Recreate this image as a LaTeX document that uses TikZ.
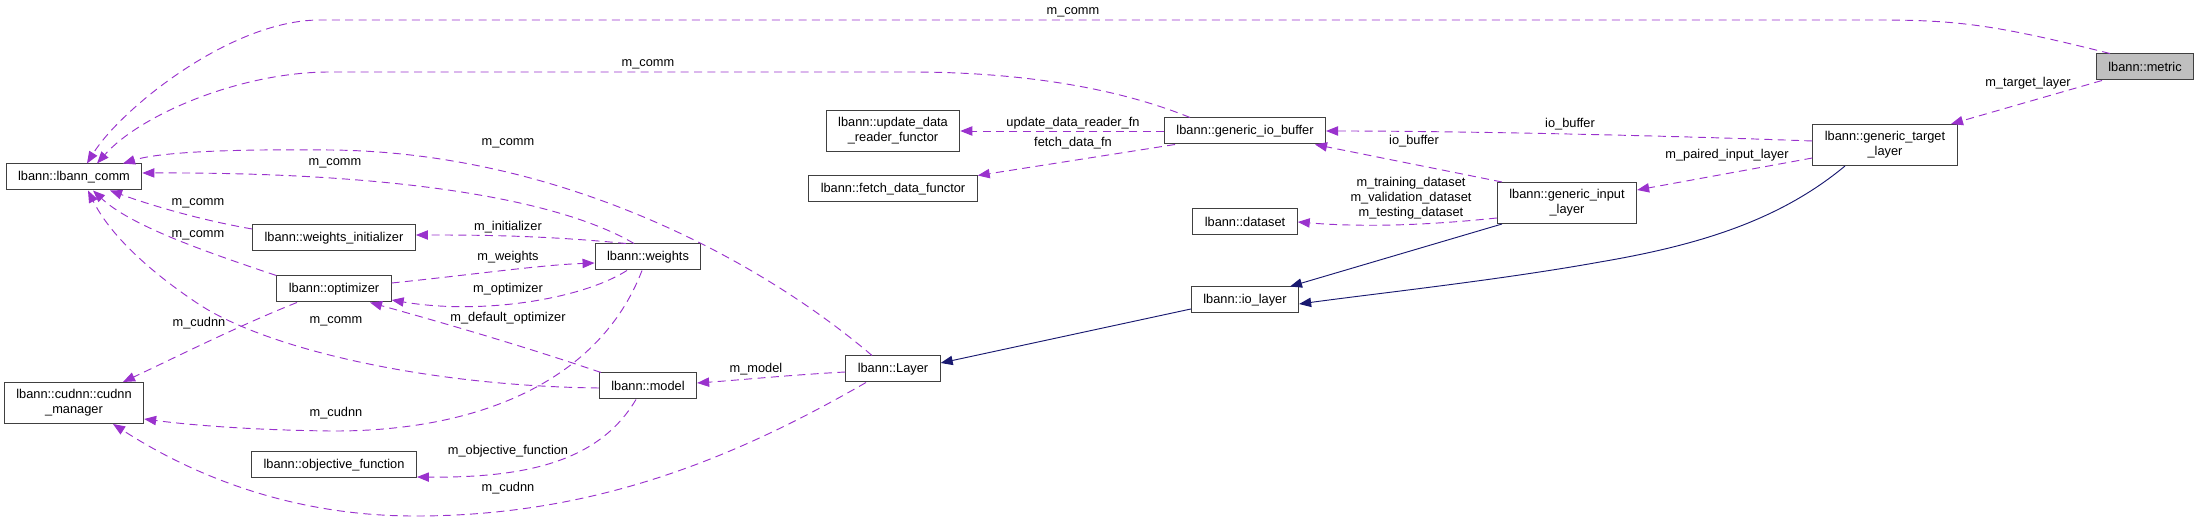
\documentclass[tikz,border=0pt]{standalone}
\usepackage{fontspec}
\setmainfont{Liberation Sans}
\usetikzlibrary{arrows.meta,calc}
\definecolor{orchid}{HTML}{9A32CD}
\definecolor{midblue}{HTML}{191970}

\begin{document}
\begin{tikzpicture}[
    x=.75pt,y=-.75pt,
    font=\fontsize{9.6}{11.25}\selectfont,
    cls/.style={draw=black!75,line width=.75pt,fill=white,inner xsep=9pt,minimum height=19.5pt,align=center},
    cls2/.style={cls,minimum height=30.75pt},
    mem/.style={-{Triangle[length=9pt,width=7pt]},orchid,dash pattern=on 6pt off 4pt,line width=.7pt},
    inh/.style={-{Triangle[length=9pt,width=7pt]},midblue,line width=.7pt},
    lbl/.style={inner sep=0pt}
  ]
    \useasboundingbox (0,0) rectangle (2200,523);
    % classes
    \node[cls,fill=black!25] (metric) at (2145,67) {lbann::metric};
    \node[cls2] (target) at (1885,145) {lbann::generic\_target\\\_layer};
    \node[cls] (iobuf) at (1245,131) {lbann::generic\_io\_buffer};
    \node[cls2] (update) at (893,131) {lbann::update\_data\\\_reader\_functor};
    \node[cls] (fetch) at (893,189) {lbann::fetch\_data\_functor};
    \node[cls2] (input) at (1567,203) {lbann::generic\_input\\\_layer};
    \node[cls] (dataset) at (1245,222) {lbann::dataset};
    \node[cls] (iolayer) at (1245,300) {lbann::io\_layer};
    \node[cls] (layer) at (893,369) {lbann::Layer};
    \node[cls] (model) at (648,386) {lbann::model};
    \node[cls] (weights) at (648,257) {lbann::weights};
    \node[cls] (opt) at (334,289) {lbann::optimizer};
    \node[cls] (winit) at (334,238) {lbann::weights\_initializer};
    \node[cls] (comm) at (74,177) {lbann::lbann\_comm};
    \node[cls2] (cudnn) at (74,403) {lbann::cudnn::cudnn\\\_manager};
    \node[cls] (objfn) at (334,465) {lbann::objective\_function};

    % members pointing at lbann_comm
    \draw[mem] ($(metric.north)+(-35,0)$) .. controls (2000,26) and (1960,20) .. (1880,20) -- (320,20)
      .. controls (230,20) and (120,110) .. ($(comm.north)+(13,0)$);
    \draw[mem] ($(iobuf.north)+(-55,0)$) .. controls (1110,85) and (1010,72) .. (910,72) -- (330,72)
      .. controls (240,72) and (140,115) .. ($(comm.north)+(23,0)$);
    \draw[mem] ($(layer.north)+(-21,0)$) .. controls (760,260) and (560,152) .. (330,150)
      .. controls (230,149) and (160,152) .. ($(comm.north)+(49,0)$);
    \draw[mem] ($(weights.north)+(-14,0)$) .. controls (560,200) and (400,172) .. ($(comm.east)+(0,-4)$);
    \draw[mem] ($(winit.west)+(0,-9)$) .. controls (200,220) and (150,205) .. ($(comm.south)+(36,0)$);
    \draw[mem] (opt.north west) .. controls (200,250) and (130,225) .. ($(comm.south)+(19,0)$);
    \draw[mem] ($(model.west)+(0,2)$) .. controls (430,386) and (270,350) .. (200,305)
      .. controls (150,272) and (110,235) .. ($(comm.south)+(14,0)$);
    % members pointing at cudnn_manager
    \draw[mem] ($(opt.south)+(-37,0)$) .. controls (240,325) and (170,360) .. ($(cudnn.north)+(49,0)$);
    \draw[mem] ($(weights.south)+(-6,0)$) .. controls (600,380) and (480,432) .. (330,431)
      .. controls (250,430) and (190,425) .. ($(cudnn.east)+(0,16)$);
    \draw[mem] ($(layer.south)+(-27,0)$) .. controls (740,455) and (600,515) .. (420,516)
      .. controls (300,517) and (200,480) .. ($(cudnn.south)+(39,0)$);
    % model, weights, optimizer
    \draw[mem] ($(model.south)+(-12,0)$) .. controls (600,460) and (530,478) .. ($(objfn.east)+(0,12)$);
    \draw[mem] ($(weights.north)+(-22,0)$) .. controls (540,235) and (470,235) .. ($(winit.east)+(0,-3)$);
    \draw[mem] ($(opt.east)+(0,-6)$) .. controls (470,275) and (540,265) .. ($(weights.west)+(0,6)$);
    \draw[mem] ($(weights.south)+(-21,0)$) .. controls (580,300) and (480,315) .. ($(opt.east)+(0,11)$);
    \draw[mem] ($(model.north)+(-47,0)$) .. controls (520,345) and (440,322) .. ($(opt.south)+(36,0)$);
    \draw[mem] ($(layer.west)+(0,3)$) .. controls (790,375) and (740,380) .. ($(model.east)+(0,-3)$);
    % inheritance
    \draw[inh] ($(iolayer.west)+(0,9)$) -- ($(layer.east)+(0,-6)$);
    \draw[inh] ($(input.south)+(-65,0)$) -- ($(iolayer.north)+(45,0)$);
    \draw[inh] ($(target.south)+(-40,0)$) .. controls (1780,220) and (1700,245) .. (1600,262)
      .. controls (1500,280) and (1380,293) .. ($(iolayer.east)+(0,4)$);
    % io side
    \draw[mem] (iobuf.west) -- (update.east);
    \draw[mem] ($(iobuf.south)+(-70,0)$) -- (fetch.north east);
    \draw[mem] ($(target.west)+(0,-4)$) .. controls (1650,135) and (1450,131) .. (iobuf.east);
    \draw[mem] ($(input.north)+(-65,0)$) -- ($(iobuf.south)+(70,0)$);
    \draw[mem] ($(input.west)+(0,15)$) .. controls (1420,226) and (1360,227) .. (dataset.east);
    \draw[mem] ($(target.west)+(0,13)$) -- ($(input.east)+(0,-13)$);
    \draw[mem] ($(metric.south)+(-43,0)$) -- ($(target.north)+(66,0)$);

    % labels
    \node[lbl] (lm1) at (1073,12) {m\_comm};
    \node[lbl] (lm2) at (648,64) {m\_comm};
    \node[lbl] (lm3) at (508,143) {m\_comm};
    \node[lbl] (lm4) at (335,163) {m\_comm};
    \node[lbl] (lm5) at (198,203) {m\_comm};
    \node[lbl] (lm6) at (198,235) {m\_comm};
    \node[lbl] (lm7) at (336,321) {m\_comm};
    \node[lbl] (lc1) at (199,323) {m\_cudnn};
    \node[lbl] (lc2) at (336,413) {m\_cudnn};
    \node[lbl] (lc3) at (508,488) {m\_cudnn};
    \node[lbl] (lobj) at (508,451) {m\_objective\_function};
    \node[lbl] (linit) at (508,227) {m\_initializer};
    \node[lbl] (lw) at (508,257) {m\_weights};
    \node[lbl] (lopt) at (508,289) {m\_optimizer};
    \node[lbl] (ldef) at (508,318) {m\_default\_optimizer};
    \node[lbl] (lmod) at (756,369) {m\_model};
    \node[lbl] (lupd) at (1073,123) {update\_data\_reader\_fn};
    \node[lbl] (lfet) at (1073,143) {fetch\_data\_fn};
    \node[lbl] (lbuf1) at (1570,124) {io\_buffer};
    \node[lbl] (lbuf2) at (1414,141) {io\_buffer};
    \node[lbl,align=center] (ldata) at (1411,198) {m\_training\_dataset\\m\_validation\_dataset\\m\_testing\_dataset};
    \node[lbl] (lpair) at (1727,155) {m\_paired\_input\_layer};
    \node[lbl] (ltgt) at (2028,83) {m\_target\_layer};
\end{tikzpicture}
\end{document}
